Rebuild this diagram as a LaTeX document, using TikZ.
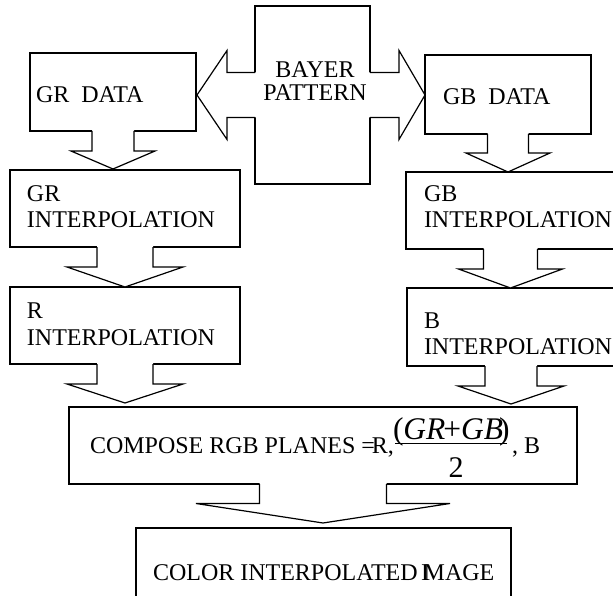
\documentclass[tikz,border=0pt]{standalone}
\usepackage{fontspec}
\setmainfont{Liberation Serif}
\usetikzlibrary{calc}
\tikzset{
  box/.style={draw=black, line width=1.2pt, rectangle, inner sep=0pt, outer sep=0pt},
  outl/.style={draw=black, line width=1.2pt, line join=miter},
  lbl/.style={anchor=base west, inner sep=0pt, outer sep=0pt, font=\fontsize{24}{26}\selectfont},
  clbl/.style={anchor=base, inner sep=0pt, outer sep=0pt, font=\fontsize{24}{26}\selectfont},
  mlbl/.style={inner sep=0pt, outer sep=0pt, font=\fontsize{31.5}{34}\selectfont},
}
% vertical block arrow: #1 source, #2 target, #3 stem half, #4 wing half, #5 stem length, #6 tip gap
\newcommand\vblock[6]{%
  \fill[white] ($(#1.south)+(-#3,-1.5)$) -- ($(#1.south)+(-#3,#5)$) -- ($(#1.south)+(-#4,#5)$)
    -- ($(#2.north -| #1.south)+(0,-#6)$) -- ($(#1.south)+(#4,#5)$) -- ($(#1.south)+(#3,#5)$)
    -- ($(#1.south)+(#3,-1.5)$) -- cycle;
  \draw[outl] ($(#1.south)+(-#3,0)$) -- ($(#1.south)+(-#3,#5)$) -- ($(#1.south)+(-#4,#5)$)
    -- ($(#2.north -| #1.south)+(0,-#6)$) -- ($(#1.south)+(#4,#5)$) -- ($(#1.south)+(#3,#5)$)
    -- ($(#1.south)+(#3,0)$);
}
\begin{document}
\begin{tikzpicture}[x=1pt,y=-1pt]
\useasboundingbox (0,0) rectangle (613,596);
\fill[white] (0,0) rectangle (613,596);
\clip (0,0) rectangle (613,596);

% boxes
\node[box, minimum width=166pt, minimum height=78pt] (grdata) at (113,92) {};
\node[box, minimum width=115pt, minimum height=178pt] (bayer) at (312.5,95) {};
\node[box, minimum width=166pt, minimum height=79pt] (gbdata) at (508,94.5) {};
\node[box, minimum width=230pt, minimum height=77pt] (grint) at (125,208.5) {};
\node[box, minimum width=209pt, minimum height=77pt] (gbint) at (510.5,210.5) {};
\node[box, minimum width=230pt, minimum height=77pt] (rint) at (125,325.5) {};
\node[box, minimum width=208pt, minimum height=78pt] (bint) at (511,327) {};
\node[box, minimum width=508pt, minimum height=77pt] (compose) at (323,445.5) {};
\node[box, minimum width=375pt, minimum height=77pt] (color) at (323.5,566.5) {};

% horizontal block arrows from the Bayer pattern
\fill[white] ($(bayer.west)+(1.5,-22.5)$) -- ($(bayer.west)+(-28,-22.5)$) -- ($(bayer.west)+(-28,-44.5)$)
  -- ($(bayer.west -| grdata.east)+(1,0)$) -- ($(bayer.west)+(-28,44.5)$) -- ($(bayer.west)+(-28,22.5)$)
  -- ($(bayer.west)+(1.5,22.5)$) -- cycle;
\draw[outl] ($(bayer.west)+(0,-22.5)$) -- ($(bayer.west)+(-28,-22.5)$) -- ($(bayer.west)+(-28,-44.5)$)
  -- ($(bayer.west -| grdata.east)+(1,0)$) -- ($(bayer.west)+(-28,44.5)$) -- ($(bayer.west)+(-28,22.5)$)
  -- ($(bayer.west)+(0,22.5)$);
\fill[white] ($(bayer.east)+(-1.5,-22.5)$) -- ($(bayer.east)+(29,-22.5)$) -- ($(bayer.east)+(29,-44.5)$)
  -- (bayer.east -| gbdata.west) -- ($(bayer.east)+(29,44.5)$) -- ($(bayer.east)+(29,22.5)$)
  -- ($(bayer.east)+(-1.5,22.5)$) -- cycle;
\draw[outl] ($(bayer.east)+(0,-22.5)$) -- ($(bayer.east)+(29,-22.5)$) -- ($(bayer.east)+(29,-44.5)$)
  -- (bayer.east -| gbdata.west) -- ($(bayer.east)+(29,44.5)$) -- ($(bayer.east)+(29,22.5)$)
  -- ($(bayer.east)+(0,22.5)$);

% vertical block arrows
\vblock{grdata}{grint}{21}{42}{20}{1}
\vblock{gbdata}{gbint}{20.5}{42}{19}{0}
\vblock{grint}{rint}{28}{58}{20}{0}
\vblock{gbint}{bint}{27}{52}{20}{0}
\vblock{rint}{compose}{28}{58}{20}{4}
\vblock{bint}{compose}{26}{53}{20}{3}
\vblock{compose}{color}{63.5}{127}{19.5}{5}

% texts
\node[lbl] (tgrdata) at (36,103) {GR\hspace{12pt}DATA};
\node[clbl] (tbayer1) at (315,78) {BAYER};
\node[clbl] (tbayer2) at (315,101) {PATTERN};
\node[lbl] (tgbdata) at (443,105) {GB\hspace{12pt}DATA};
\node[lbl] (tgrint1) at (27,202) {GR};
\node[lbl] (tgrint2) at (27,228) {INTERPOLATION};
\node[lbl] (tgbint1) at (424,202) {GB};
\node[lbl] (tgbint2) at (424,228) {INTERPOLATION};
\node[lbl] (trint1) at (27,318) {R};
\node[lbl] (trint2) at (27,345) {INTERPOLATION};
\node[lbl] (tbint1) at (424,328) {B};
\node[lbl] (tbint2) at (424,354) {INTERPOLATION};
\node[lbl] (tcompose) at (90,453) {COMPOSE RGB PLANES =\kern-3pt R,};
\node[mlbl, anchor=base west] (tnum) at (393,439) {(\textit{GR}\kern-2pt+\textit{GB}\kern-4pt)};
\draw[line width=1pt] ($(tnum.base west)+(2,4)$) -- ($(tnum.base east)+(-3,4)$);
\node[mlbl, anchor=base, font=\fontsize{30}{32}\selectfont] (tden) at (456,477) {2};
\node[lbl] (tb) at (512,453) {, B};
\node[lbl] (tcolor) at (153,580) {COLOR INTERPOLATED \rlap{\kern-2.5pt I}MAGE};
\end{tikzpicture}
\end{document}
